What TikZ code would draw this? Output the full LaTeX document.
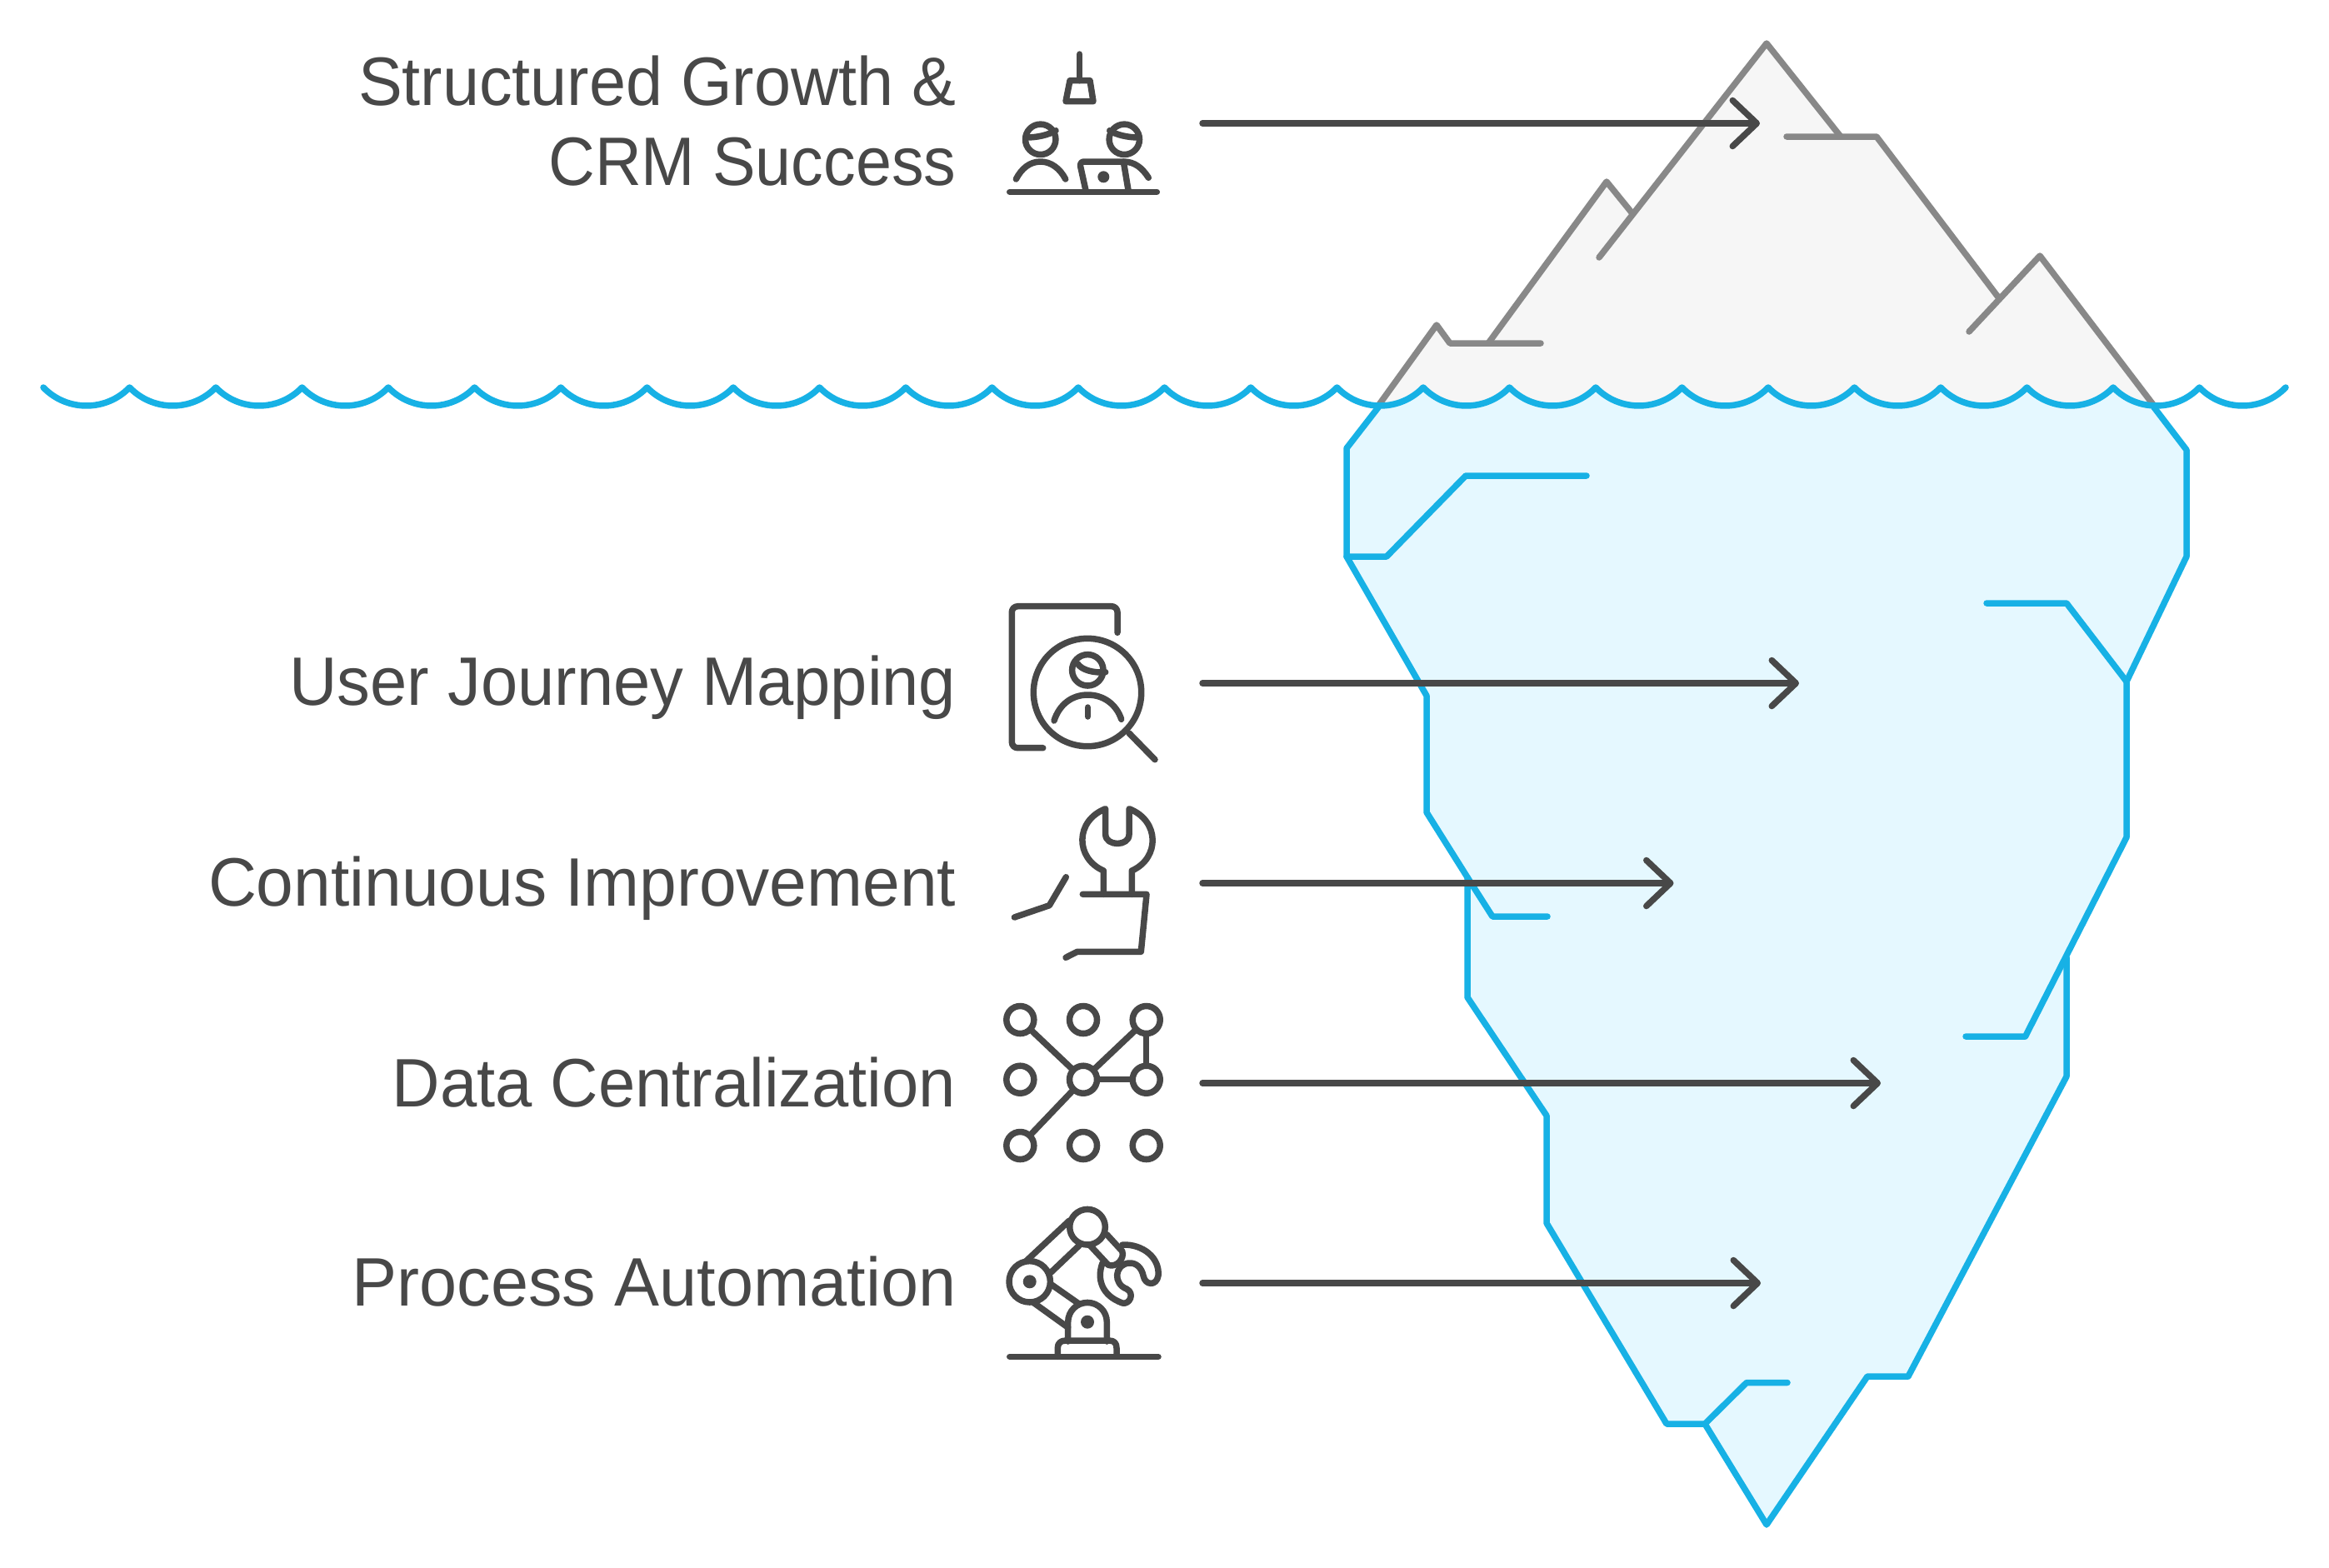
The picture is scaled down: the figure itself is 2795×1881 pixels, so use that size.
\documentclass[tikz,border=0pt]{standalone}
\usepackage{fontspec}
\setmainfont{Liberation Sans}
\usetikzlibrary{arrows.meta}
\definecolor{ink}{HTML}{484848}
\definecolor{berg}{HTML}{17B1E5}
\definecolor{bergfill}{HTML}{E5F8FF}
\definecolor{tip}{HTML}{888888}
\definecolor{tipfill}{HTML}{F6F6F6}
\tikzset{
  base/.style={line width=0.075cm,line cap=round,line join=round},
  greyline/.style={base,draw=tip},
  blueline/.style={base,draw=berg},
  iconline/.style={base,draw=ink},
  pointer/.style={base,draw=ink,-{Straight Barb[length=0.29cm,width=0.55cm,round]}},
  lab/.style={anchor=base east,inner sep=0pt,text=ink},
  dot/.style={circle,draw=ink,fill=white,line width=0.075cm,minimum size=0.33cm,inner sep=0pt},
}
\newcommand{\labtext}[2]{\fontsize{23.4}{27}\selectfont\addfontfeature{FakeStretch=#1}#2}
\newcommand{\wavepath}{(52,465) \foreach \i [evaluate=\i as \pa using {52+103.5*\i+28.3},
   evaluate=\i as \pb using {52+103.5*\i+75.2}, evaluate=\i as \pc using {52+103.5*\i+103.5}] in {0,...,25}
   { .. controls (\pa,494.3) and (\pb,494.3) .. (\pc,465)}}
\begin{document}
\begin{tikzpicture}[x=0.01cm,y=-0.01cm]
\useasboundingbox (0,0) rectangle (2795,1881);
% fills
\fill[tipfill] (1654,492)--(1724,390)--(1740,412)--(1786,412)--(1928,218)--(1958,255)--(2120,52)--(2209,164)--(2252,164)--(2399,358)--(2448,307)--(2585,492)--cycle;
\begin{scope}
\clip \wavepath -- (2743,1881) -- (52,1881) -- cycle;
\fill[bergfill] (1654,440)--(1654,489)--(1616,538)--(1616,668)--(1712,835)--(1712,975)--(1761,1053)--(1761,1197)--(1856,1339)--(1856,1468)--(2000,1709)--(2046,1709)--(2120,1830)--(2241,1652)--(2290,1652)--(2480,1292)--(2480,1149)--(2552,1005)--(2552,818)--(2624,668)--(2624,540)--(2585,489)--(2585,440)--cycle;
\end{scope}
% tip outline
\draw[greyline] (1654,487)--(1724,390)--(1740,412)--(1849,412);
\draw[greyline] (1786,412)--(1928,218)--(1958,255);
\draw[greyline] (1919,309)--(2120,52)--(2209,164);
\draw[greyline] (2144,164)--(2252,164)--(2399,358);
\draw[greyline] (2363,398)--(2448,307)--(2585,487);
% submerged outline
\draw[blueline] (1654,489)--(1616,538)--(1616,668)--(1712,835)--(1712,975)--(1761,1053)--(1791,1100)--(1857,1100);
\draw[blueline] (1616,668)--(1664,668)--(1759,571)--(1904,571);
\draw[blueline] (1761,1053)--(1761,1197)--(1856,1339)--(1856,1468)--(2000,1709)--(2046,1709)--(2096,1659.5)--(2145,1659.5);
\draw[blueline] (2046,1709)--(2120,1830)--(2241,1652)--(2290,1652)--(2480,1292)--(2480,1149);
\draw[blueline] (2359,1244)--(2430.5,1244)--(2552,1005)--(2552,818)--(2624,668)--(2624,540)--(2585,489);
\draw[blueline] (2384,724)--(2480,724)--(2552,818);
% water
\draw[blueline] \wavepath;
% labels
\node[lab] (l1a) at (1148,126) {\labtext{0.962}{Structured Growth \&}};
\node[lab] (l1b) at (1148,222) {\labtext{0.938}{CRM Success}};
\node[lab] (l2) at (1148,846) {\labtext{0.966}{User Journey Mapping}};
\node[lab] (l3) at (1148,1087) {\labtext{0.976}{Continuous Improvement}};
\node[lab] (l4) at (1148,1328) {\labtext{0.967}{Data Centralization}};
\node[lab] (l5) at (1148,1567) {\labtext{0.984}{Process Automation}};
% pointers
\coordinate (s1) at (1443,148); \coordinate (e1) at (2112,148);
\coordinate (s2) at (1443,820); \coordinate (e2) at (2159,820);
\coordinate (s3) at (1443,1060); \coordinate (e3) at (2008.5,1060);
\coordinate (s4) at (1443,1300); \coordinate (e4) at (2257,1300);
\coordinate (s5) at (1443,1540); \coordinate (e5) at (2113,1540);
\draw[pointer] (s1)--(e1);
\draw[pointer] (s2)--(e2);
\draw[pointer] (s3)--(e3);
\draw[pointer] (s4)--(e4);
\draw[pointer] (s5)--(e5);
% icon 1
\draw[iconline] (1295.7,65)--(1295.7,96.7);
\draw[iconline] (1284,96.7)--(1308,96.7)--(1312,121.7)--(1279,121.7)--cycle;
\draw[iconline] (1248.7,167.3) circle (18.2);
\draw[iconline] (1349.3,167.3) circle (18.2);
\draw[iconline] (1231.7,165) .. controls (1245,165) and (1258,162) .. (1267,156.7);
\draw[iconline] (1331.7,156.7) .. controls (1340,162) and (1353,165) .. (1366.7,165);
\draw[iconline] (1219.3,215) .. controls (1226,202) and (1236,194) .. (1248.7,194) .. controls (1261,194) and (1272,202) .. (1278.7,215);
\draw[iconline] (1303.3,230)--(1296.7,200) .. controls (1296,196) and (1298,194) .. (1301,194)--(1348.3,194)--(1354.3,230);
\draw[iconline] (1348.3,194) .. controls (1362,194) and (1371,202) .. (1378.3,213.3);
\fill[ink] (1324.3,212.3) circle (7);
\draw[iconline] (1211.7,230.3)--(1388.3,230.3);
% icon 2
\draw[iconline,rounded corners=0.07cm] (1251.7,897.7)--(1214.3,897.7)--(1214.3,727.7)--(1341,727.7)--(1341,759.3);
\draw[iconline] (1305,831) circle (64.7);
\draw[iconline] (1355,880)--(1386,911.7);
\draw[iconline] (1305.3,804.3) circle (18.7);
\draw[iconline] (1293.3,796.7) .. controls (1298,804) and (1312,808) .. (1326.7,806.7);
\draw[iconline] (1265,865) .. controls (1271,846) and (1286,834) .. (1305.3,834) .. controls (1325,834) and (1340,846) .. (1345.7,863.3);
\draw[iconline] (1305.3,849)--(1305.3,860);
% icon 3
\draw[iconline] (1324.3,1073.3)--(1324.3,1045) .. controls (1290,1030) and (1290,985) .. (1326.7,970.7)--(1326.7,1001.7) .. controls (1327,1016) and (1355,1016) .. (1355,1001.7)--(1355,970.7) .. controls (1392,985) and (1392,1030) .. (1358.3,1045)--(1358.3,1073.3);
\draw[iconline] (1299.3,1073.3)--(1376,1073.3)--(1369.3,1142.3)--(1292.7,1142.3)--(1279,1149.3);
\draw[iconline] (1279.3,1052.7)--(1259.3,1086.7)--(1217.3,1101);
% icon 4
\node[dot] (d11) at (1224.3,1224) {};
\node[dot] (d12) at (1300,1224) {};
\node[dot] (d13) at (1375.7,1224) {};
\node[dot] (d21) at (1224.3,1295.7) {};
\node[dot] (d22) at (1300,1295.7) {};
\node[dot] (d23) at (1375.7,1295.7) {};
\node[dot] (d31) at (1224.3,1375) {};
\node[dot] (d32) at (1300,1375) {};
\node[dot] (d33) at (1375.7,1375) {};
\draw[iconline] (d11)--(d22);
\draw[iconline] (d13)--(d22);
\draw[iconline] (d13)--(d23);
\draw[iconline] (d22)--(d23);
\draw[iconline] (d31)--(d22);
% icon 5
\draw[iconline] (1305,1472.7) circle (21.3);
\draw[iconline] (1235.7,1538.3) circle (24.7);
\fill[ink] (1235.7,1538.3) circle (8);
\draw[iconline] (1231.7,1513.3)--(1283.3,1465);
\draw[iconline] (1260,1528.3)--(1295,1495);
\draw[iconline] (1261.7,1541.7)--(1295,1565);
\draw[iconline] (1240,1563.3)--(1281.7,1593.3);
\draw[iconline] (1281.7,1610)--(1281.7,1586.7) arc (180:360:23.3) --(1328.3,1610);
\fill[ink] (1305,1586.7) circle (8);
\draw[iconline] (1269.3,1628.3)--(1269.3,1618) .. controls (1269.3,1612) and (1273,1609) .. (1279,1609)--(1331,1609) .. controls (1337,1609) and (1340,1612) .. (1340,1618)--(1340,1628.3);
\draw[iconline] (1211.7,1628.3)--(1390,1628.3);
\draw[iconline] (1328.3,1481.7)--(1346.7,1501.7) .. controls (1350,1510) and (1340,1522) .. (1330,1518.3)--(1308.3,1495);
\draw[iconline] (1323,1516) .. controls (1316,1535) and (1322,1555) .. (1347,1564) .. controls (1356,1566) and (1362,1552) .. (1352,1547) .. controls (1336,1541) and (1337,1519) .. (1354,1516) .. controls (1364,1515) and (1370,1522) .. (1372,1531) .. controls (1374,1543) and (1388,1544) .. (1390,1531) .. controls (1392,1510) and (1372,1493) .. (1347,1494);
\end{tikzpicture}
\end{document}
